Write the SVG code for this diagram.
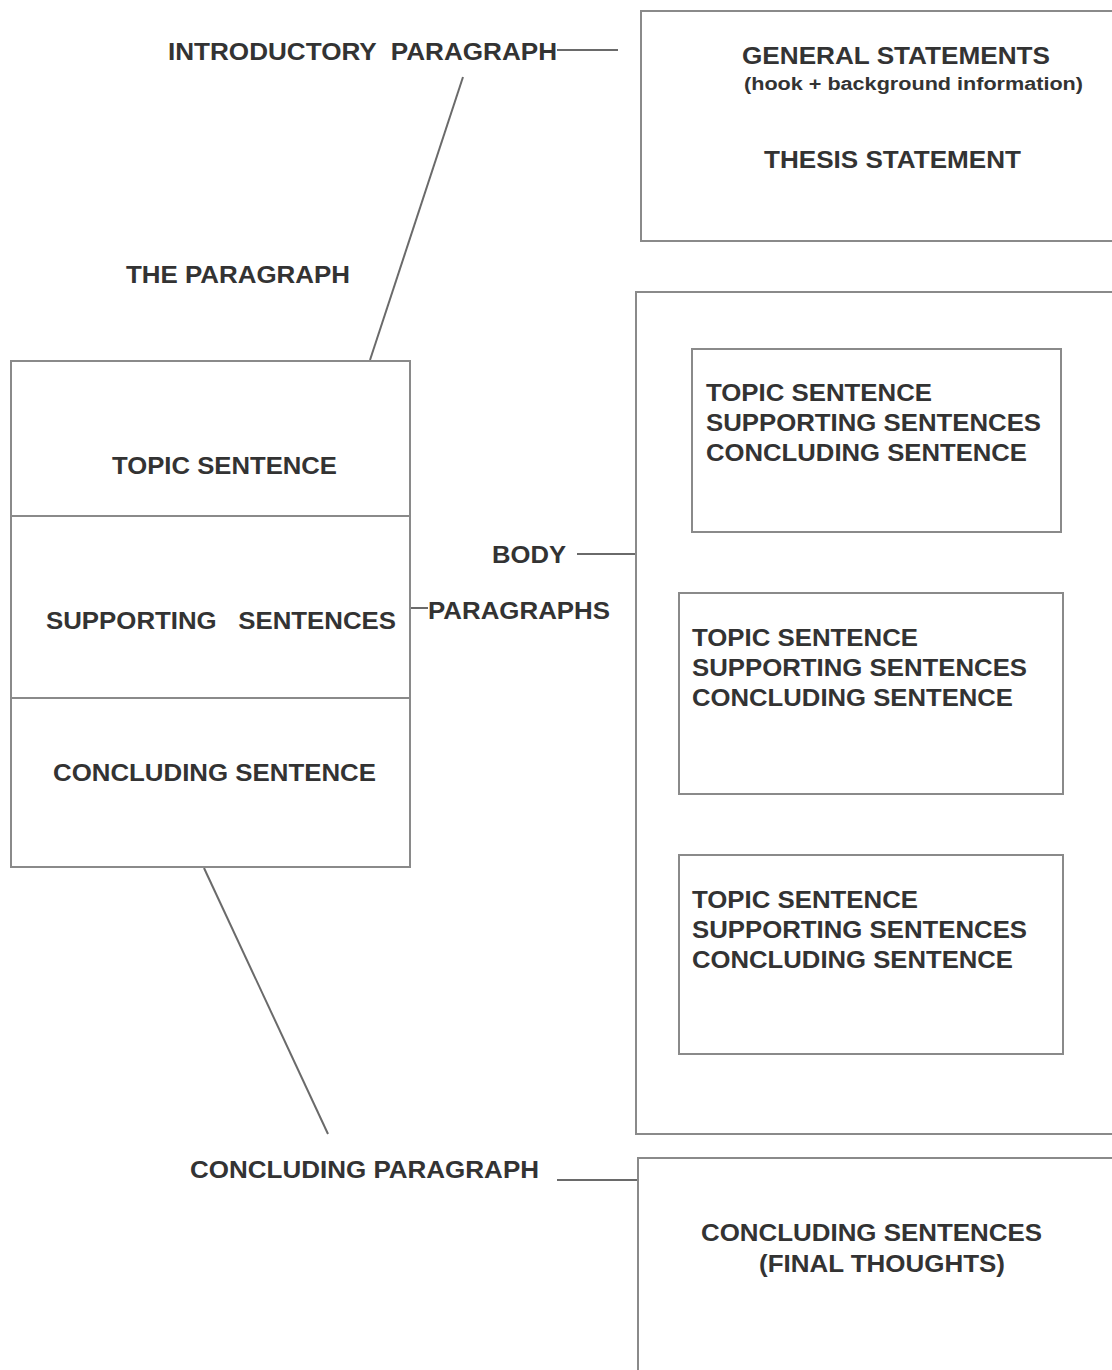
<svg xmlns="http://www.w3.org/2000/svg" width="1112" height="1370" viewBox="0 0 1112 1370">
<style>
text{font-family:"Liberation Sans",Arial,sans-serif;font-weight:bold;fill:#333;font-size:23px}
.s{font-size:18px}
.box{fill:none;stroke:#8a8a8a;stroke-width:2}
.ln{stroke:#6a6a6a;stroke-width:2;fill:none}
</style>
<rect width="1112" height="1370" fill="#fff"/>
<g id="connectors">
<line class="ln" x1="557" y1="50" x2="618" y2="50"/>
<line class="ln" x1="463" y1="77" x2="370" y2="360"/>
<line class="ln" x1="577" y1="554" x2="636" y2="554"/>
<line class="ln" x1="411" y1="608" x2="428" y2="608"/>
<line class="ln" x1="204" y1="868" x2="328" y2="1134"/>
<line class="ln" x1="557" y1="1180" x2="638" y2="1180"/>
</g>
<g id="intro-label"><text xml:space="preserve" x="168" y="60" textLength="389" lengthAdjust="spacingAndGlyphs">INTRODUCTORY  PARAGRAPH</text></g>
<g id="the-paragraph-label"><text x="126" y="283" textLength="224" lengthAdjust="spacingAndGlyphs">THE PARAGRAPH</text></g>
<g id="body-label"><text x="492" y="563" textLength="74" lengthAdjust="spacingAndGlyphs">BODY</text><text x="428" y="619" textLength="182" lengthAdjust="spacingAndGlyphs">PARAGRAPHS</text></g>
<g id="concl-label"><text x="190" y="1178" textLength="349" lengthAdjust="spacingAndGlyphs">CONCLUDING PARAGRAPH</text></g>
<g id="intro-box">
<rect class="box" x="641" y="11" width="480" height="230"/>
<text x="742" y="64" textLength="308" lengthAdjust="spacingAndGlyphs">GENERAL STATEMENTS</text>
<text class="s" x="744" y="90" textLength="339" lengthAdjust="spacingAndGlyphs">(hook + background information)</text>
<text x="764" y="168" textLength="257" lengthAdjust="spacingAndGlyphs">THESIS STATEMENT</text>
</g>
<g id="paragraph-box">
<rect class="box" x="11" y="361" width="399" height="506"/>
<line class="box" x1="11" y1="516" x2="410" y2="516"/>
<line class="box" x1="11" y1="698" x2="410" y2="698"/>
<text x="112" y="474" textLength="225" lengthAdjust="spacingAndGlyphs">TOPIC SENTENCE</text>
<text xml:space="preserve" x="46" y="629" textLength="350" lengthAdjust="spacingAndGlyphs">SUPPORTING   SENTENCES</text>
<text x="53" y="781" textLength="323" lengthAdjust="spacingAndGlyphs">CONCLUDING SENTENCE</text>
</g>
<g id="body-box">
<rect class="box" x="636" y="292" width="490" height="842"/>
</g>
<g id="body-1">
<rect class="box" x="692" y="349" width="369" height="183"/>
<text x="706" y="401" textLength="226" lengthAdjust="spacingAndGlyphs">TOPIC SENTENCE</text>
<text x="706" y="431" textLength="335" lengthAdjust="spacingAndGlyphs">SUPPORTING SENTENCES</text>
<text x="706" y="461" textLength="321" lengthAdjust="spacingAndGlyphs">CONCLUDING SENTENCE</text>
</g>
<g id="body-2">
<rect class="box" x="679" y="593" width="384" height="201"/>
<text x="692" y="646" textLength="226" lengthAdjust="spacingAndGlyphs">TOPIC SENTENCE</text>
<text x="692" y="676" textLength="335" lengthAdjust="spacingAndGlyphs">SUPPORTING SENTENCES</text>
<text x="692" y="706" textLength="321" lengthAdjust="spacingAndGlyphs">CONCLUDING SENTENCE</text>
</g>
<g id="body-3">
<rect class="box" x="679" y="855" width="384" height="199"/>
<text x="692" y="908" textLength="226" lengthAdjust="spacingAndGlyphs">TOPIC SENTENCE</text>
<text x="692" y="938" textLength="335" lengthAdjust="spacingAndGlyphs">SUPPORTING SENTENCES</text>
<text x="692" y="968" textLength="321" lengthAdjust="spacingAndGlyphs">CONCLUDING SENTENCE</text>
</g>
<g id="concl-box">
<rect class="box" x="638" y="1158" width="490" height="230"/>
<text x="701" y="1241" textLength="341" lengthAdjust="spacingAndGlyphs">CONCLUDING SENTENCES</text>
<text x="759" y="1272" textLength="246" lengthAdjust="spacingAndGlyphs">(FINAL THOUGHTS)</text>
</g>
</svg>
